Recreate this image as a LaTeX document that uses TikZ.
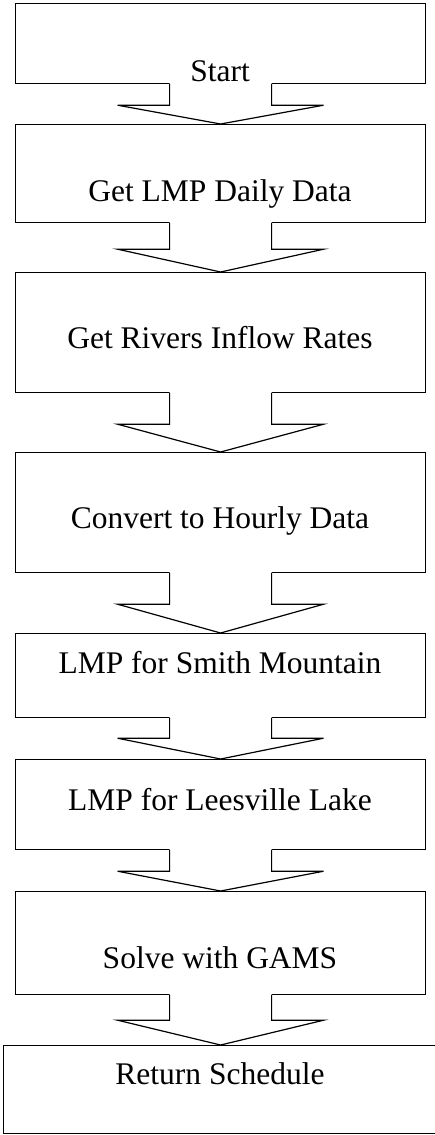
\documentclass[tikz,border=0pt]{standalone}
\usepackage{fontspec}
\setmainfont{Liberation Serif}
\usetikzlibrary{calc}
\tikzset{
  box/.style={draw, line width=1.2pt, inner sep=0pt, anchor=north west, minimum width=410pt},
  lbl/.style={inner sep=0pt, anchor=base, font=\fontsize{31.5}{36}\selectfont},
  arrline/.style={line width=1.2pt, line join=miter},
}
\newcommand{\blockarr}[3]{%
  \fill[white] ($(#1.south)+(-51,-1)$) -- ($(#1.south)+(-51,#3)$) -- ($(#1.south)+(-103,#3)$)
     -- (#1.south |- #2.north) -- ($(#1.south)+(103,#3)$) -- ($(#1.south)+(51,#3)$) -- ($(#1.south)+(51,-1)$) -- cycle;
  \draw[arrline] ($(#1.south)+(-51,0)$) -- ($(#1.south)+(-51,#3)$) -- ($(#1.south)+(-103,#3)$)
     -- (#1.south |- #2.north) -- ($(#1.south)+(103,#3)$) -- ($(#1.south)+(51,#3)$) -- ($(#1.south)+(51,0)$);
}
\begin{document}
\begin{tikzpicture}[x=1pt,y=-1pt]
\useasboundingbox (0,0) rectangle (435,1135);
\node[box, minimum height=80pt] (b1) at (15,3) {};
\node[box, minimum height=98pt] (b2) at (15,124) {};
\node[box, minimum height=120pt] (b3) at (15,272) {};
\node[box, minimum height=120pt] (b4) at (15,452) {};
\node[box, minimum height=84pt] (b5) at (15,633) {};
\node[box, minimum height=90pt] (b6) at (15,759) {};
\node[box, minimum height=103pt] (b7) at (15,891) {};
\node[box, minimum height=88pt, minimum width=445pt] (b8) at (3,1045) {};
\node[lbl] (t1) at (220,81) {Start};
\node[lbl] (t2) at (220,201) {Get LMP Daily Data};
\node[lbl] (t3) at (220,348) {Get Rivers Inflow Rates};
\node[lbl] (t4) at (220,528) {Convert to Hourly Data};
\node[lbl] (t5) at (220,673) {LMP for Smith Mountain};
\node[lbl] (t6) at (220,810) {LMP for Leesville Lake};
\node[lbl] (t7) at (220,968) {Solve with GAMS};
\node[lbl] (t8) at (220,1084) {Return Schedule};
\blockarr{b1}{b2}{21}
\blockarr{b2}{b3}{26}
\blockarr{b3}{b4}{31}
\blockarr{b4}{b5}{31}
\blockarr{b5}{b6}{20}
\blockarr{b6}{b7}{21}
\blockarr{b7}{b8}{25}
\end{tikzpicture}
\end{document}
